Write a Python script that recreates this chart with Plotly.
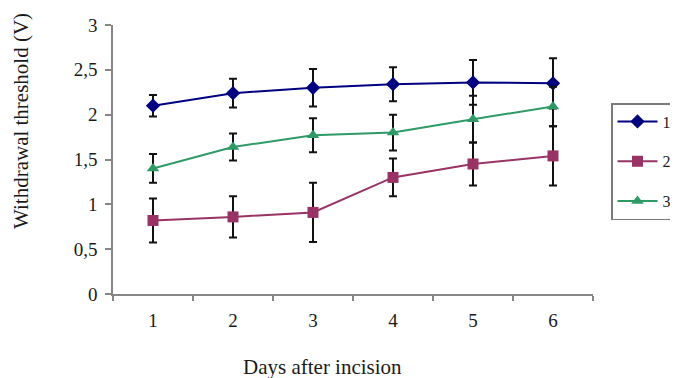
import plotly.graph_objects as go

days = ["1", "2", "3", "4", "5", "6"]
names = ["1", "2", "3"]
s1 = [2.10, 2.24, 2.30, 2.34, 2.36, 2.35]
e1 = [0.12, 0.16, 0.21, 0.19, 0.25, 0.28]
s2 = [0.82, 0.86, 0.91, 1.30, 1.45, 1.54]
e2 = [0.245, 0.23, 0.33, 0.21, 0.24, 0.33]
s3 = [1.40, 1.64, 1.77, 1.80, 1.95, 2.09]
e3 = [0.16, 0.15, 0.19, 0.20, 0.26, 0.22]
yticks = [0, 0.5, 1, 1.5, 2, 2.5, 3]

colors = ["#000080", "#993366", "#2e9a66"]
symbols = ["diamond", "square", "triangle-up"]
msize = [11, 11, 11]

# the page body adds an 8px offset; margins compensate for it
OFF = 8
PL, PT, PW, PH = 113, 25, 480, 269  # plot area in page pixels

fig = go.Figure()
for i, (vals, errs) in enumerate([(s1, e1), (s2, e2), (s3, e3)]):
    fig.add_trace(go.Scatter(
        x=days, y=vals, name=names[i], mode="lines+markers",
        legendgroup=f"g{i}",
        line=dict(color=colors[i], width=2),
        marker=dict(symbol=symbols[i], size=msize[i], color=colors[i]),
        error_y=dict(type="data", array=errs, visible=True, color="#111111",
                     thickness=2, width=4),
    ))

font_family = "Liberation Serif, Times New Roman, serif"
fig.update_layout(
    width=678, height=378,
    margin=dict(l=PL - OFF, r=678 - (PL - OFF) - PW, t=PT - OFF,
                b=378 - (PT - OFF) - PH, autoexpand=False),
    paper_bgcolor="white", plot_bgcolor="white",
    separators=", ",
    font=dict(family=font_family, size=19, color="#1a1a1a"),
    showlegend=True,
    legend=dict(x=(611 - PL) / PW, y=(PT + PH - 103) / PH, xanchor="left", yanchor="top",
                bordercolor="#7a7a7a", borderwidth=1.5, bgcolor="white",
                font=dict(family=font_family, size=16, color="#1a1a1a"),
                tracegroupgap=16, traceorder="grouped",
                itemwidth=40),
    xaxis=dict(type="category", tickson="boundaries", ticks="outside",
               range=[-0.5, 5.5],
               ticklen=5, tickwidth=1.5, tickcolor="#868686",
               showline=True, linecolor="#868686", linewidth=1.5,
               showgrid=False, zeroline=False, ticklabelstandoff=8,
               tickfont=dict(family=font_family, size=19)),
    yaxis=dict(range=[0, 3], tickvals=yticks, ticks="outside",
               ticklen=6, tickwidth=1.5, tickcolor="#868686",
               showline=True, linecolor="#868686", linewidth=1.5,
               showgrid=False, zeroline=False, ticklabelstandoff=4,
               tickfont=dict(family=font_family, size=19)),
    annotations=[
        dict(text="Withdrawal threshold (V)", xref="paper", yref="paper",
             x=(21 - PL) / PW, y=(PT + PH - 121) / PH, xanchor="center", yanchor="middle",
             textangle=-90, showarrow=False,
             font=dict(family=font_family, size=21, color="#1a1a1a")),
        dict(text="Days after incision", xref="paper", yref="paper",
             x=(322 - PL) / PW, y=(PT + PH - 367) / PH, xanchor="center",
             yanchor="middle", showarrow=False,
             font=dict(family=font_family, size=21, color="#1a1a1a")),
    ],
)

fig.write_html("out.html")
